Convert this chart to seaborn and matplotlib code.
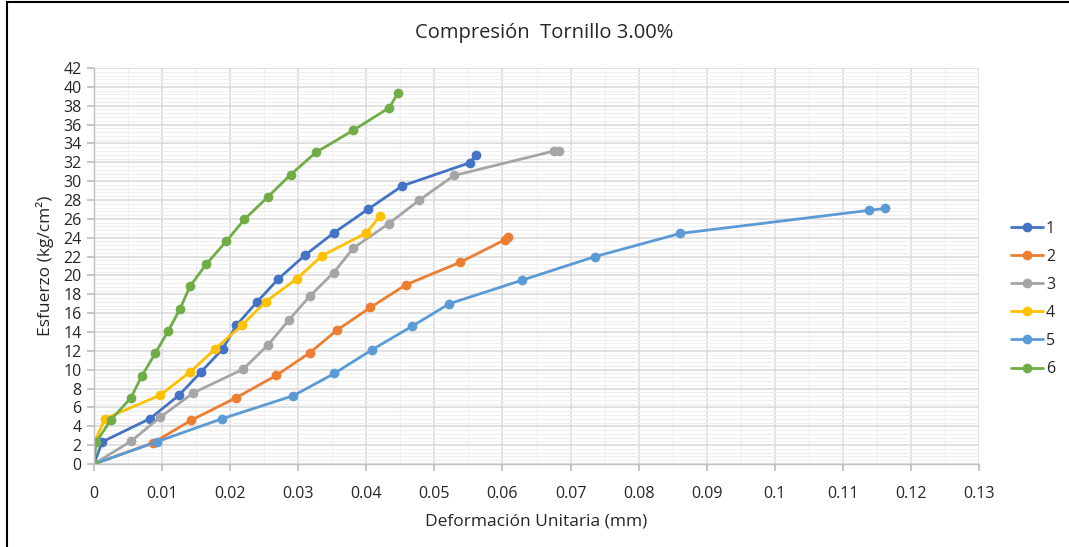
import matplotlib
matplotlib.use("Agg")
import matplotlib.pyplot as plt
import seaborn as sns
import pandas as pd
from matplotlib.ticker import MultipleLocator
from matplotlib.lines import Line2D

# ---- data ----
x1 = [0, 0.0012, 0.0082, 0.0125, 0.0157, 0.0189, 0.0209, 0.0239, 0.0271, 0.0310, 0.0352, 0.0402, 0.0453, 0.0552, 0.0561]
y1 = [0, 2.35, 4.8, 7.3, 9.75, 12.2, 14.7, 17.15, 19.65, 22.15, 24.5, 27.0, 29.5, 31.95, 32.8]

x2 = [0, 0.0087, 0.0143, 0.0208, 0.0268, 0.0317, 0.0357, 0.0406, 0.0458, 0.0538, 0.0604, 0.0608]
y2 = [0, 2.25, 4.65, 7.0, 9.4, 11.8, 14.2, 16.6, 19.0, 21.4, 23.8, 24.1]

x3 = [0, 0.0055, 0.0097, 0.0146, 0.0219, 0.0256, 0.0286, 0.0317, 0.0352, 0.0381, 0.0433, 0.0478, 0.0529, 0.0676, 0.0683]
y3 = [0, 2.45, 4.95, 7.55, 10.05, 12.65, 15.25, 17.8, 20.3, 22.9, 25.5, 28.0, 30.6, 33.2, 33.25]

x4 = [0, 0.0001, 0.0016, 0.0097, 0.0141, 0.0178, 0.0217, 0.0252, 0.0298, 0.0335, 0.0400, 0.0420]
y4 = [0, 2.35, 4.8, 7.3, 9.75, 12.2, 14.7, 17.2, 19.65, 22.1, 24.5, 26.3]

x5 = [0, 0.0092, 0.0188, 0.0293, 0.0353, 0.0408, 0.0467, 0.0522, 0.0629, 0.0736, 0.0861, 0.1138, 0.1162]
y5 = [0, 2.35, 4.8, 7.25, 9.6, 12.1, 14.6, 17.0, 19.5, 22.0, 24.45, 26.9, 27.1]

x6 = [0, 0.0003, 0.0025, 0.0054, 0.0070, 0.0090, 0.0109, 0.0126, 0.0141, 0.0165, 0.0194, 0.0221, 0.0255, 0.0289, 0.0326, 0.0381, 0.0434, 0.0446]
y6 = [0, 2.3, 4.7, 7.0, 9.3, 11.75, 14.1, 16.4, 18.85, 21.2, 23.6, 25.95, 28.3, 30.7, 33.05, 35.4, 37.8, 39.3]

series_names = ["1", "2", "3", "4", "5", "6"]
colors = ["#4472C4", "#ED7D31", "#A5A5A5", "#FFC000", "#5B9BD5", "#70AD47"]

title = "Compresión  Tornillo 3.00%"
xlabel = "Deformación Unitaria (mm)"
ylabel = "Esfuerzo (kg/cm²)"

# ---- build long-form table ----
frames = []
for name, xs, ys in zip(series_names, [x1, x2, x3, x4, x5, x6], [y1, y2, y3, y4, y5, y6]):
    frames.append(pd.DataFrame({"x": xs, "y": ys, "serie": name}))
df = pd.concat(frames, ignore_index=True)

sns.set_theme(style="white")
plt.rcParams["font.family"] = ["Open Sans", "DejaVu Sans"]

TXT = "#262626"

fig = plt.figure(figsize=(10.69, 5.47), dpi=100)
ax = fig.add_axes([94 / 1069, 1 - 464 / 547, (979 - 94) / 1069, (464 - 68) / 547])

sns.lineplot(data=df, x="x", y="y", hue="serie", hue_order=series_names,
             palette=dict(zip(series_names, colors)), sort=False, estimator=None,
             marker="o", markersize=7, markeredgewidth=0, linewidth=2, ax=ax,
             legend=True)

ax.set_xlim(0, 0.13)
ax.set_ylim(0, 42)
ax.xaxis.set_major_locator(MultipleLocator(0.01))
ax.xaxis.set_minor_locator(MultipleLocator(0.005))
ax.yaxis.set_major_locator(MultipleLocator(2))
ax.yaxis.set_minor_locator(MultipleLocator(0.4))
ax.grid(which="major", color="#D9D9D9", linewidth=1.1)
ax.grid(which="minor", color="#EFEFEF", linewidth=0.8)
ax.set_axisbelow(True)

xt = [round(i * 0.01, 2) for i in range(14)]
ax.set_xticks(xt)
ax.set_xticklabels(["0" if v == 0 else f"{v:g}" for v in xt])

for s in ["top", "right"]:
    ax.spines[s].set_visible(False)
for s in ["left", "bottom"]:
    ax.spines[s].set_color("#BFBFBF")
    ax.spines[s].set_linewidth(1)

ax.tick_params(axis="both", which="major", labelsize=11.5, labelcolor=TXT,
               length=5, color="#BFBFBF", direction="out", bottom=True, left=True, pad=4)
ax.tick_params(axis="x", which="major", pad=11)
ax.tick_params(which="minor", length=0)

ax.set_xlabel(xlabel, fontsize=12.5, color=TXT, labelpad=8)
ax.set_ylabel(ylabel, fontsize=12.5, color=TXT, labelpad=7)
fig.text((415 + 673) / 2 / 1069, 1 - 33 / 547, title, ha="center", va="center",
         fontsize=14.5, color=TXT)

handles, labels = ax.get_legend_handles_labels()
ax.legend(handles, labels, loc="center left", bbox_to_anchor=(1.027, 0.417),
          frameon=False, fontsize=11.5, handlelength=2.0, labelspacing=0.76,
          handletextpad=0.2, borderpad=0.3, borderaxespad=0.2)

# frame lines on left and top, as in the reference
fig.add_artist(Line2D([7 / 1069, 7 / 1069], [0, 1 - 2 / 547], transform=fig.transFigure,
                      color="black", linewidth=1.5))
fig.add_artist(Line2D([7 / 1069, 1], [1 - 2 / 547, 1 - 2 / 547], transform=fig.transFigure,
                      color="black", linewidth=1.5))

fig.savefig("out.png", dpi=100)
